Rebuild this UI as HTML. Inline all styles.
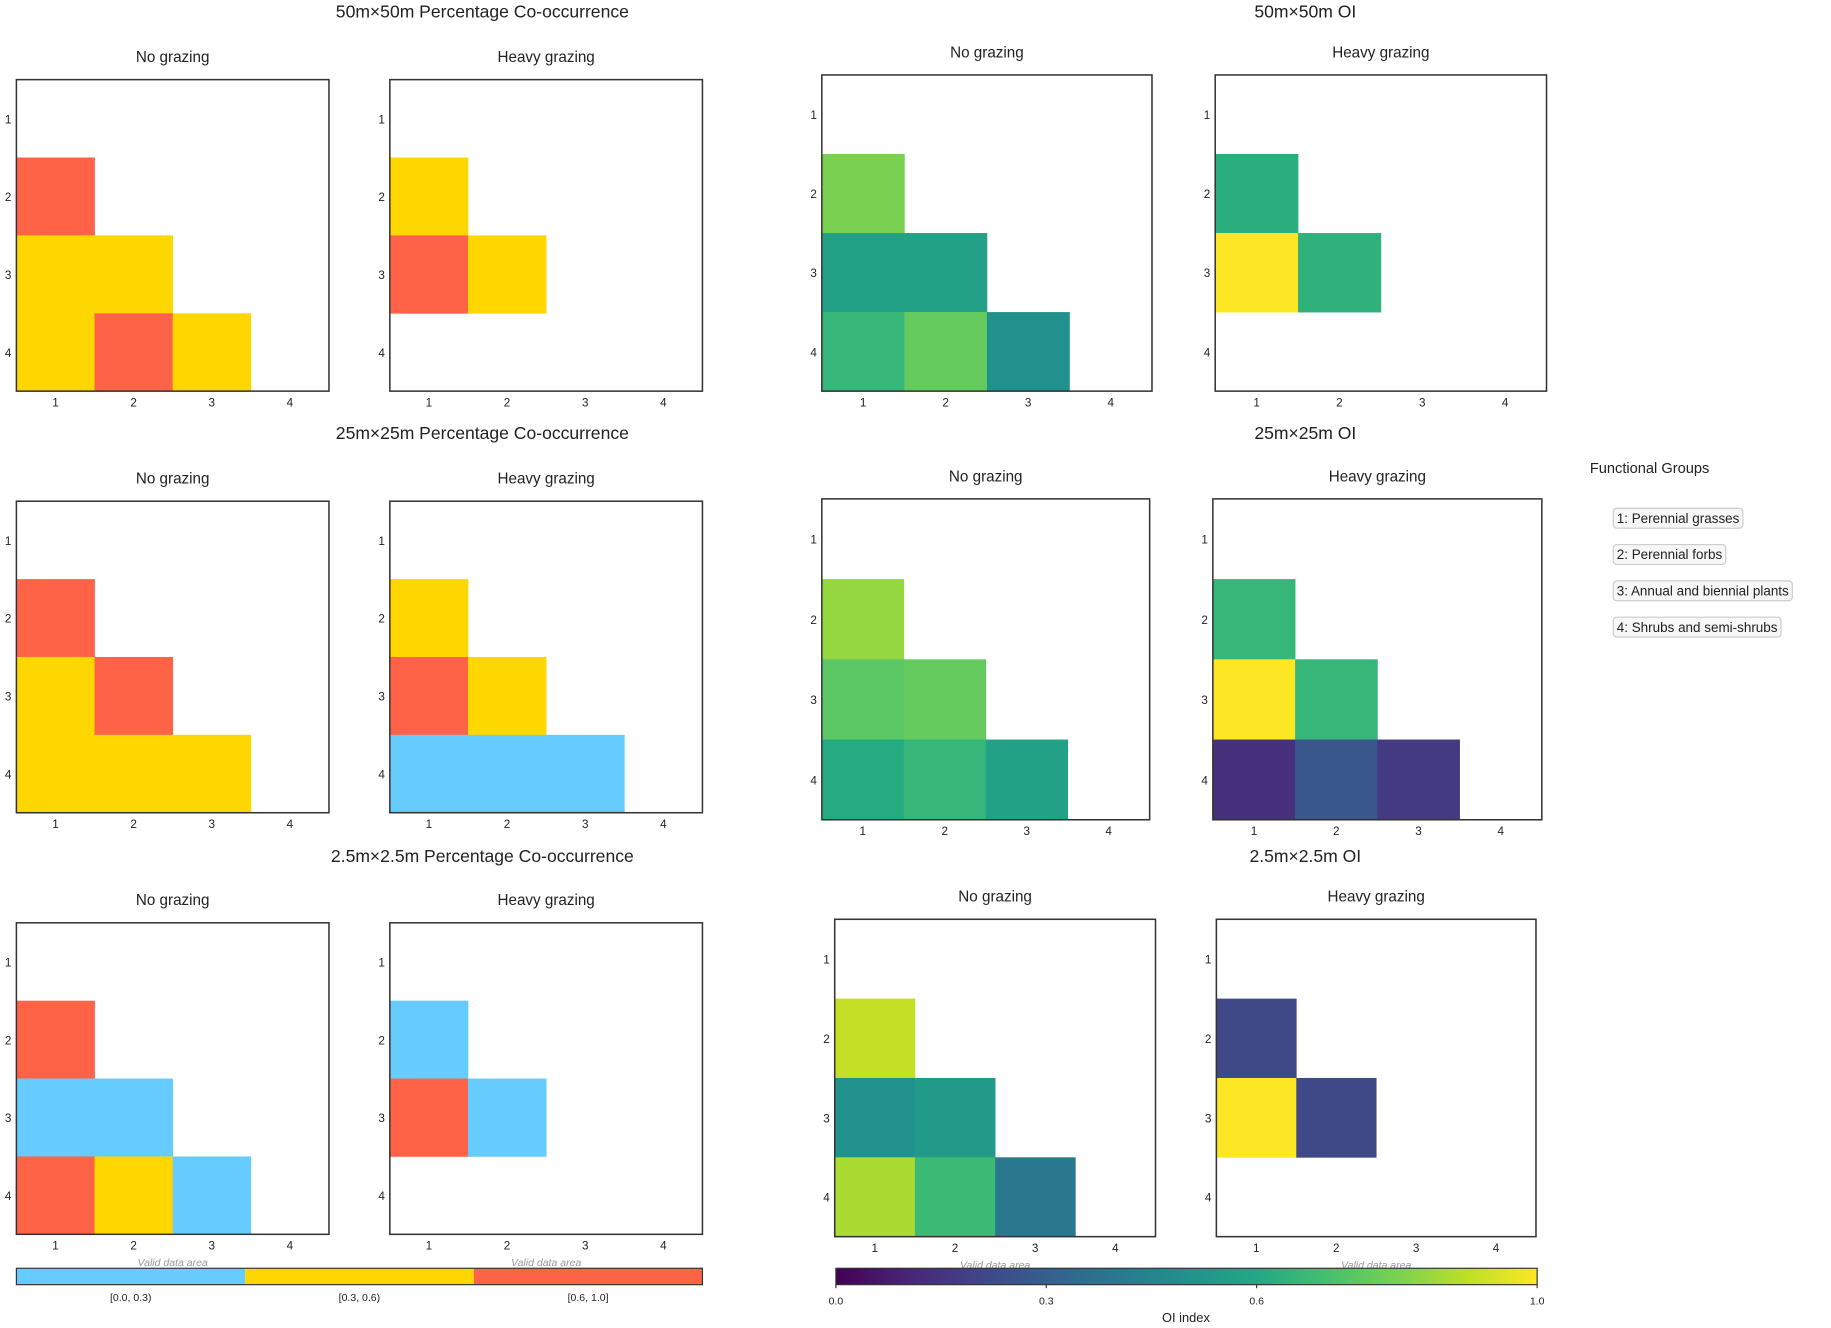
<!DOCTYPE html>
<html><head><meta charset="utf-8"><style>
html,body{margin:0;padding:0;background:#fff;}
svg{display:block;font-family:"Liberation Sans","DejaVu Sans",sans-serif;}
</style></head><body>
<svg id="fig" width="1831" height="1328" viewBox="0 0 1564 1134" preserveAspectRatio="none" xmlns="http://www.w3.org/2000/svg">
<g id="root"></g>
</svg>
<script>
// ----- data -----
const pcCategories = ["[0.0, 0.3)", "[0.3, 0.6)", "[0.6, 1.0]"];
const pcColors = ["#66ccff", "#ffd700", "#ff6347"];
const groupLabels = ["1: Perennial grasses", "2: Perennial forbs", "3: Annual and biennial plants", "4: Shrubs and semi-shrubs"];
const scaleTitles = ["50m×50m", "25m×25m", "2.5m×2.5m"];
// cells: [row, col, category] (PC) ; [row, col, value] (OI)
const pc50No = [[2,1,2],[3,1,1],[3,2,1],[4,1,1],[4,2,2],[4,3,1]];
const pc50Heavy = [[2,1,1],[3,1,2],[3,2,1]];
const pc25No = [[2,1,2],[3,1,1],[3,2,2],[4,1,1],[4,2,1],[4,3,1]];
const pc25Heavy = [[2,1,1],[3,1,2],[3,2,1],[4,1,0],[4,2,0],[4,3,0]];
const pc25mNo = [[2,1,2],[3,1,0],[3,2,0],[4,1,2],[4,2,1],[4,3,0]];
const pc25mHeavy = [[2,1,0],[3,1,2],[3,2,0]];
const oi50No = [[2,1,0.80],[3,1,0.57],[3,2,0.57],[4,1,0.66],[4,2,0.76],[4,3,0.50]];
const oi50Heavy = [[2,1,0.63],[3,1,1.0],[3,2,0.64]];
const oi25No = [[2,1,0.84],[3,1,0.74],[3,2,0.76],[4,1,0.61],[4,2,0.66],[4,3,0.57]];
const oi25Heavy = [[2,1,0.66],[3,1,1.0],[3,2,0.66],[4,1,0.14],[4,2,0.27],[4,3,0.17]];
const oi25mNo = [[2,1,0.91],[3,1,0.50],[3,2,0.54],[4,1,0.87],[4,2,0.68],[4,3,0.40]];
const oi25mHeavy = [[2,1,0.22],[3,1,1.0],[3,2,0.22]];
const oiTicks = [0.0, 0.3, 0.6, 1.0];
const axisTicks = [1,2,3,4];

const viridisStops = ["#440154","#482475","#414487","#355f8d","#2a788e","#21918c","#22a884","#44bf70","#7ad151","#bddf26","#fde725"];
function hex(c){return [1,3,5].map(i=>parseInt(c.substr(i,2),16));}
function viridis(v){
  v=Math.max(0,Math.min(1,v));
  const p=v*10,i=Math.min(9,Math.floor(p)),f=p-i;
  const a=hex(viridisStops[i]),b=hex(viridisStops[i+1]);
  return "rgb("+a.map((x,k)=>Math.round(x+(b[k]-x)*f)).join(",")+")";
}
const NS="http://www.w3.org/2000/svg";
const root=document.getElementById("root");
function mk(tag,attrs,parent){const e=document.createElementNS(NS,tag);for(const k in attrs)e.setAttribute(k,attrs[k]);(parent||root).appendChild(e);return e;}
function txt(x,y,s,size,attrs,parent){const t=mk("text",Object.assign({x:x,y:y,"font-size":size,"text-anchor":"middle",fill:"#222"},attrs||{}),parent);t.textContent=s;return t;}

function panel(x0,y0,x1,y1,cells,colorFn,title,name,valid){
  const g=mk("g",{});
  
  
  const cw=(x1-x0)/4,ch=(y1-y0)/4;
  const xs=c=>x0+(c-1)*cw, ys=r=>y0+(r-1)*ch;
  cells.forEach(c=>{
    const r=mk("rect",{x:xs(c[1]),y:ys(c[0]),width:cw+0.3,height:ch+0.3,fill:colorFn(c[2])},g);
    
    
  });
  mk("rect",{x:x0,y:y0,width:x1-x0,height:y1-y0,fill:"none",stroke:"#333","stroke-width":1.3},g);
  axisTicks.forEach(t=>{
    const a=txt(x0-7,ys(t)+ch/2+4,String(t),10,{},g);
    
    
    const b=txt(xs(t)+cw/2,y1+13,String(t),10,{},g);
    
    
  });
  const st=txt((x0+x1)/2,y0-15,title,13,{},g);
  
  
  if(valid){
    const v=txt((x0+x1)/2,y1+27,"Valid data area",9,{fill:"#999","font-style":"italic"},g);
    
    
  }
}
const pcFn=c=>pcColors[c];
const pcRows=[[68,334],[428,694],[788,1054]];
const pcData=[[pc50No,pc50Heavy],[pc25No,pc25Heavy],[pc25mNo,pc25mHeavy]];
const oiGeom=[[[702,64,984,334],[1038,64,1321,334]],[[702,426,982,700],[1036,426,1317,700]],[[713,785,987,1056],[1039,785,1312,1056]]];
const oiData=[[oi50No,oi50Heavy],[oi25No,oi25Heavy],[oi25mNo,oi25mHeavy]];
const titleY=[15,375,736];
for(let r=0;r<3;r++){
  const t1=txt(412,titleY[r],scaleTitles[r]+" Percentage Co-occurrence",15);
  
  
  const t2=txt(1115,titleY[r],scaleTitles[r]+" OI",15);
  
  
  panel(14,pcRows[r][0],281,pcRows[r][1],pcData[r][0],pcFn,"No grazing","pc-no-grazing-"+r,r==2);
  panel(333,pcRows[r][0],600,pcRows[r][1],pcData[r][1],pcFn,"Heavy grazing","pc-heavy-grazing-"+r,r==2);
  const a=oiGeom[r][0],b=oiGeom[r][1];
  panel(a[0],a[1],a[2],a[3],oiData[r][0],viridis,"No grazing","oi-no-grazing-"+r,r==2);
  panel(b[0],b[1],b[2],b[3],oiData[r][1],viridis,"Heavy grazing","oi-heavy-grazing-"+r,r==2);
}
// PC colorbar
const cbx0=14,cbx1=600,cby=1083,cbh=14,segW=(cbx1-cbx0)/pcCategories.length;
pcCategories.forEach((c,i)=>{
  const r=mk("rect",{x:cbx0+i*segW,y:cby,width:segW,height:cbh,fill:pcColors[i]});
  
  
  const t=txt(cbx0+i*segW+segW/2,cby+cbh+14,c,9);
  
  
});
mk("rect",{x:cbx0,y:cby,width:cbx1-cbx0,height:cbh,fill:"none",stroke:"#333","stroke-width":1});
// OI colorbar
const defs=mk("defs",{});
const lg=mk("linearGradient",{id:"vir",x1:"0",x2:"1",y1:"0",y2:"0"},defs);
viridisStops.forEach((c,i)=>mk("stop",{offset:(i/10),"stop-color":c},lg));
const ox0=714,ox1=1313;
const ocb=mk("rect",{x:ox0,y:cby,width:ox1-ox0,height:cbh,fill:"url(#vir)",stroke:"#333","stroke-width":1});


oiTicks.forEach(v=>{
  const x=ox0+v*(ox1-ox0);
  mk("line",{x1:x,x2:x,y1:cby+cbh,y2:cby+cbh+3,stroke:"#333"});
  const t=txt(x,cby+cbh+17,v.toFixed(1),9);
  
  
});
const oil=txt(1013,1129,"OI index",11);


// Legend
const lt=txt(1358,404,"Functional Groups",12.5,{"text-anchor":"start"});


groupLabels.forEach((s,i)=>{
  const y=434+i*31;
  const r=mk("rect",{x:1378,y:y,width:100,height:17,rx:3,fill:"#f7f7f7",stroke:"#ccc","stroke-width":1});
  
  
  const t=txt(1381,y+12.5,s,11.5,{"text-anchor":"start"});
  
  
  let w=s.length*6.2;
  try{w=t.getComputedTextLength();}catch(e){}
  r.setAttribute("width",w+6);
});
</script>
</body></html>
